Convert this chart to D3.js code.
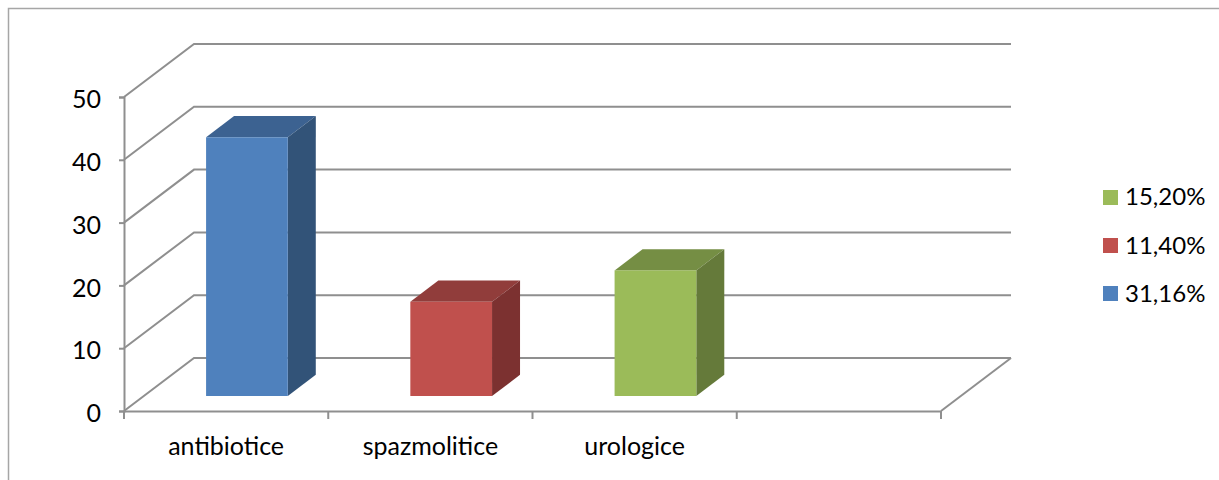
<!DOCTYPE html>
<html>
<head>
<meta charset="utf-8">
<script src="https://cdn.jsdelivr.net/npm/d3@7"></script>
<style>
  html, body { margin: 0; padding: 0; background: #fff; }
  svg { display: block; }
  text { font-family: Lato, "Open Sans", sans-serif; fill: #000; }
</style>
</head>
<body>
<div id="chart"></div>
<script>
const categories = ["antibiotice", "spazmolitice", "urologice", ""];
const values = [41.2, 15, 20];
const frontColors = ["#4f81bd", "#c0504d", "#9bbb59"];
const topColors = ["#3c6291", "#913d3b", "#758e44"];
const sideColors = ["#325378", "#7c3130", "#657a3a"];
const legendLabels = ["15,20%", "11,40%", "31,16%"];
const legendColors = ["#9bbb59", "#c0504d", "#4f81bd"];
const yTicks = [0, 10, 20, 30, 40, 50];

const width = 1219, height = 480;
const depthX = 70, depthY = -53;      // floor depth of the fake 3d box
const barShift = 0.283, barDepth = 0.4; // where the bar sits inside that depth
const gridColor = "#8f8f8f";
const lineW = 2;

const x = d3.scaleBand().domain(categories).range([124, 941]).paddingInner(0).paddingOuter(0);
const y = d3.scaleLinear().domain([0, 50]).range([411, 97]);
const barW = x.bandwidth() * 0.4;

const svg = d3.select("#chart").append("svg")
  .attr("width", width).attr("height", height)
  .attr("viewBox", `0 0 ${width} ${height}`);

// outer frame, only left and top show
svg.append("path")
  .attr("d", `M8.5 ${height}V8.5H${width}`)
  .attr("fill", "none").attr("stroke", "#a6a6a6").attr("stroke-width", 1.5);

// walls
const grid = svg.append("g").attr("fill", "none").attr("stroke", gridColor);
grid.selectAll("path.grid")
  .data(yTicks)
  .join("path")
  .attr("class", "grid")
  .attr("stroke-width", lineW)
  .attr("d", d => {
    const y0 = y(d);
    return `M${x.range()[0]} ${y0}L${x.range()[0] + depthX} ${y0 + depthY}H${x.range()[1] + depthX}`;
  });
grid.append("path")
  .attr("stroke-width", lineW)
  .attr("d", `M${x.range()[1]} ${y(0)}L${x.range()[1] + depthX} ${y(0) + depthY}`);

// y axis
const yAxis = svg.append("g")
  .attr("transform", "translate(124,0)")
  .call(d3.axisLeft(y).tickValues(yTicks).tickSize(5).tickPadding(18));
yAxis.select(".domain").attr("stroke", gridColor).attr("stroke-width", lineW);
yAxis.selectAll(".tick line").attr("stroke", gridColor).attr("stroke-width", lineW);
yAxis.selectAll("text")
  .attr("dy", "0.43em")
  .style("font-family", "Lato, sans-serif").style("font-size", "25px");

// x axis, labels on the band centres, ticks on the band edges
const xAxis = svg.append("g")
  .attr("transform", `translate(0,${y(0)})`)
  .call(d3.axisBottom(x).tickSize(0).tickPadding(26));
xAxis.select(".domain").attr("stroke", gridColor).attr("stroke-width", lineW);
xAxis.selectAll("text").style("font-family", "Lato, sans-serif").style("font-size", "25px");
xAxis.selectAll("line.edge")
  .data(categories.map(c => x(c)).concat(x.range()[1]))
  .join("line")
  .attr("class", "edge")
  .attr("x1", d => d).attr("x2", d => d)
  .attr("y1", 0).attr("y2", 8)
  .attr("stroke", gridColor).attr("stroke-width", lineW);

// bars
const bars = svg.append("g").selectAll("g")
  .data(values)
  .join("g")
  .attr("transform", `translate(${depthX * barShift + 1},${depthY * barShift})`);

const left = (d, i) => x(categories[i]) + (x.bandwidth() - barW) / 2;
const dx = depthX * barDepth, dy = depthY * barDepth;

bars.append("path")
  .attr("fill", (d, i) => topColors[i])
  .attr("d", (d, i) => {
    const l = left(d, i), t = y(d);
    return `M${l} ${t}l${dx} ${dy}h${barW}l${-dx} ${-dy}Z`;
  });
bars.append("path")
  .attr("fill", (d, i) => sideColors[i])
  .attr("d", (d, i) => {
    const r = left(d, i) + barW;
    return `M${r} ${y(d)}l${dx} ${dy}V${y(0) + dy}L${r} ${y(0)}Z`;
  });
bars.append("rect")
  .attr("fill", (d, i) => frontColors[i])
  .attr("x", left)
  .attr("y", d => y(d))
  .attr("width", barW)
  .attr("height", d => y(0) - y(d));

// legend
const legend = svg.append("g").selectAll("g")
  .data(legendLabels)
  .join("g")
  .attr("transform", (d, i) => `translate(1103,${[190, 238, 286][i]})`);
legend.append("rect")
  .attr("width", 15).attr("height", 15)
  .attr("fill", (d, i) => legendColors[i]);
legend.append("text")
  .attr("x", 22).attr("y", (d, i) => i === 0 ? 15 : 16)
  .style("font-size", "24px")
  .text(d => d);
</script>
</body>
</html>
